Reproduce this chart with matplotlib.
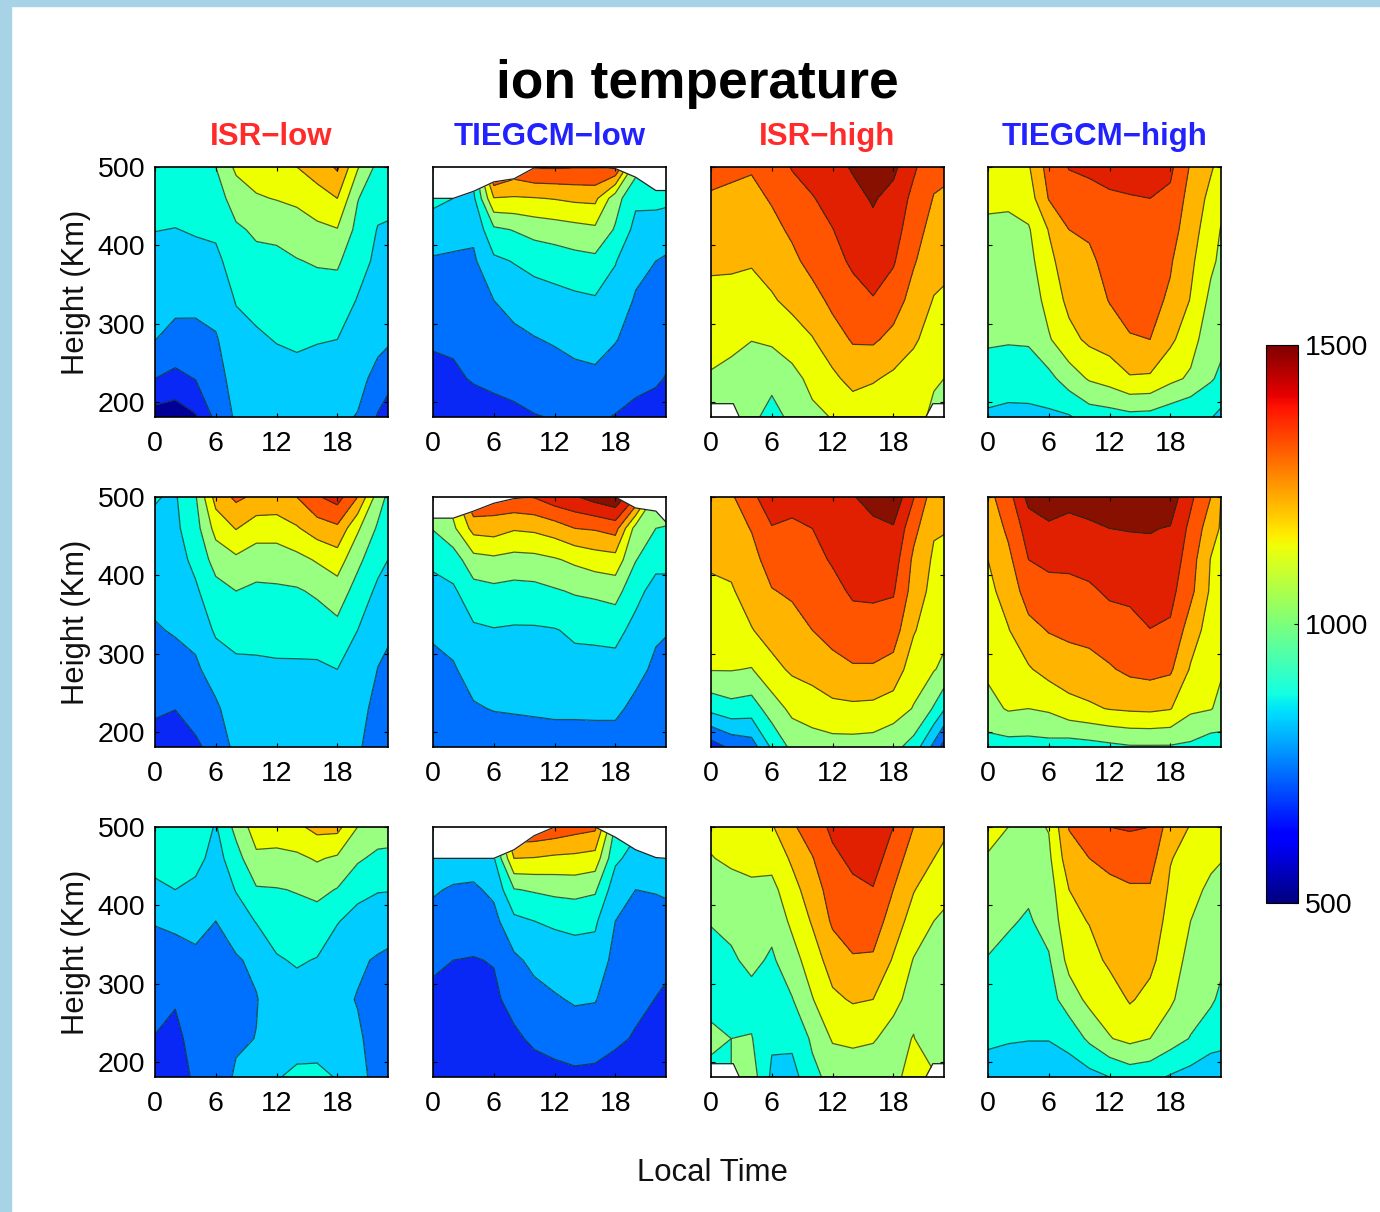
import numpy as np
import matplotlib
matplotlib.use("Agg")
import matplotlib.pyplot as plt
from matplotlib.patches import Rectangle
from matplotlib import cm
from matplotlib.colors import Normalize

plt.rcParams['font.family'] = ['Liberation Sans', 'DejaVu Sans']

LT = [0, 2, 4, 6, 8, 10, 12, 14, 16, 18, 20, 22, 23]
HEIGHTS = [181, 230, 280, 330, 380, 420, 460, 500]

col_titles = ['ISR\u2212low', 'TIEGCM\u2212low', 'ISR\u2212high', 'TIEGCM\u2212high']
x_ticks = [0, 6, 12, 18]
y_ticks = [200, 300, 400, 500]
levels = [600, 700, 800, 900, 1000, 1100, 1200, 1300, 1400, 1500]

# each inner list is one local time, bottom to top
isr_low_1 = [
 [556,700,802,830,870,902,930,960],
 [540,675,765,830,870,898,930,960],
 [590,703,770,825,875,907,935,965],
 [725,760,790,840,880,915,955,1000],
 [815,840,870,905,940,985,1045,1120],
 [830,855,885,930,975,1015,1090,1150],
 [835,860,905,940,980,1020,1105,1165],
 [840,870,915,945,995,1050,1120,1200],
 [835,865,905,950,1010,1075,1165,1240],
 [820,855,900,950,1015,1095,1200,1315],
 [795,830,865,895,935,970,1005,1110],
 [690,770,825,855,880,895,930,970],
 [650,735,815,850,870,890,925,960],
]
tiegcm_low_1 = [
 [620,665,715,755,790,850,925,970],
 [630,680,720,765,785,835,900,950],
 [640,710,745,770,785,820,880,940],
 [660,725,765,800,880,980,1195,1450],
 [670,745,775,835,905,1005,1190,1370],
 [695,750,795,855,930,1035,1195,1410],
 [705,755,810,868,945,1050,1205,1410],
 [710,765,835,880,965,1065,1220,1405],
 [715,775,845,890,975,1080,1225,1405],
 [695,755,805,860,905,990,1040,1400],
 [670,730,765,790,830,870,920,1040],
 [650,715,745,775,800,850,930,980],
 [620,695,735,770,790,840,925,980],
]
isr_high_1 = [
 [1040,1090,1135,1175,1215,1250,1285,1345],
 [1020,1075,1120,1170,1215,1245,1280,1320],
 [1030,1060,1102,1155,1210,1240,1270,1310],
 [955,1035,1115,1190,1235,1270,1310,1350],
 [1030,1065,1155,1225,1275,1318,1365,1405],
 [1075,1130,1195,1260,1335,1375,1395,1435],
 [1105,1180,1255,1325,1370,1398,1430,1465],
 [1140,1230,1310,1365,1415,1440,1470,1510],
 [1130,1210,1315,1395,1440,1475,1510,1555],
 [1105,1180,1270,1350,1410,1445,1465,1525],
 [1170,1150,1215,1260,1310,1340,1375,1415],
 [1060,1120,1155,1195,1235,1265,1295,1330],
 [1050,1100,1145,1185,1225,1255,1285,1325],
]
tiegcm_high_1 = [
 [880,965,1010,1040,1060,1075,1125,1170],
 [870,950,1008,1035,1055,1073,1120,1165],
 [870,955,1010,1040,1070,1090,1150,1190],
 [880,970,1090,1135,1170,1205,1305,1340],
 [890,1050,1170,1225,1265,1300,1350,1405],
 [945,1110,1220,1245,1280,1315,1365,1420],
 [955,1140,1245,1305,1335,1360,1390,1425],
 [970,1190,1295,1325,1350,1375,1395,1435],
 [965,1185,1300,1330,1355,1380,1400,1440],
 [935,1125,1220,1285,1310,1345,1380,1420],
 [905,1085,1140,1195,1220,1240,1260,1290],
 [905,1010,1040,1075,1120,1150,1175,1210],
 [875,980,1025,1050,1080,1095,1130,1170],
]
isr_low_2 = [
 [650,718,755,790,830,860,885,905],
 [620,703,755,810,840,860,880,890],
 [680,745,785,825,885,925,960,990],
 [740,785,840,915,965,1040,1135,1240],
 [825,850,880,930,1000,1080,1205,1320],
 [825,850,880,935,980,1050,1145,1280],
 [825,855,885,938,985,1050,1145,1270],
 [825,855,885,940,990,1070,1190,1300],
 [820,850,885,945,1015,1110,1250,1390],
 [810,845,900,970,1055,1150,1280,1440],
 [815,840,870,900,960,1025,1115,1300],
 [745,765,798,830,880,930,985,1050],
 [740,760,780,815,860,900,940,980],
]
tiegcm_low_2 = [
 [720,750,785,808,868,920,1005,1060],
 [725,755,790,835,885,950,1080,1150],
 [730,790,840,885,960,1065,1235,1410],
 [735,805,850,895,975,1080,1245,1380],
 [740,810,850,890,965,1065,1210,1390],
 [745,815,855,890,970,1070,1220,1405],
 [750,820,860,895,990,1090,1250,1460],
 [750,820,870,915,1010,1120,1300,1490],
 [755,820,860,925,1020,1150,1310,1540],
 [755,820,870,925,1040,1160,1340,1580],
 [735,775,830,875,925,1005,1060,1400],
 [720,745,780,815,870,925,1000,1070],
 [715,745,775,805,870,925,995,1060],
]
isr_high_2 = [
 [650,930,1105,1140,1180,1215,1245,1290],
 [720,965,1105,1140,1190,1225,1255,1285],
 [750,950,1095,1195,1245,1265,1305,1380],
 [915,1050,1170,1240,1295,1345,1395,1450],
 [1025,1125,1215,1260,1315,1350,1385,1430],
 [1050,1150,1235,1300,1340,1370,1400,1450],
 [1060,1175,1270,1330,1370,1410,1440,1470],
 [1060,1180,1290,1355,1415,1450,1480,1495],
 [1055,1175,1290,1355,1420,1455,1480,1530],
 [1030,1145,1265,1345,1410,1450,1490,1580],
 [960,1095,1140,1210,1260,1280,1330,1405],
 [770,990,1105,1130,1165,1185,1210,1245],
 [660,910,1080,1125,1155,1180,1205,1240],
]
tiegcm_high_2 = [
 [960,1065,1120,1150,1175,1200,1230,1270],
 [960,1110,1150,1195,1240,1275,1320,1360],
 [960,1100,1190,1270,1345,1400,1445,1530],
 [965,1115,1235,1305,1370,1420,1485,1550],
 [950,1165,1255,1320,1375,1420,1475,1525],
 [960,1185,1265,1330,1385,1435,1485,1540],
 [975,1205,1290,1355,1415,1460,1500,1545],
 [990,1215,1320,1370,1420,1460,1505,1545],
 [990,1220,1330,1398,1440,1475,1505,1545],
 [990,1205,1315,1385,1430,1465,1495,1555],
 [980,1120,1190,1250,1325,1345,1375,1420],
 [940,1105,1130,1155,1185,1195,1245,1300],
 [950,1075,1110,1130,1160,1175,1190,1200],
]
isr_low_3 = [
 [640,695,740,765,805,885,925,960],
 [630,670,710,770,815,900,940,970],
 [725,745,760,780,830,875,935,975],
 [740,755,770,785,800,830,860,890],
 [815,785,770,790,850,905,960,1030],
 [860,802,795,820,905,990,1080,1150],
 [895,860,850,890,950,995,1075,1150],
 [915,870,860,910,965,1005,1080,1180],
 [920,865,860,895,960,1025,1110,1230],
 [895,850,825,850,905,995,1085,1230],
 [830,815,795,815,870,925,1015,1100],
 [770,760,760,790,855,905,975,1060],
 [760,755,760,785,835,905,975,1050],
]
tiegcm_low_3 = [
 [635,665,680,715,770,810,860,910],
 [625,650,675,700,755,790,850,900],
 [620,645,670,695,750,785,845,900],
 [625,655,680,705,770,820,890,950],
 [625,680,735,780,875,995,1200,1400],
 [650,720,765,825,900,1010,1195,1390],
 [670,735,790,845,915,1025,1180,1370],
 [680,750,810,865,920,1035,1175,1340],
 [675,745,805,860,915,1015,1160,1320],
 [650,720,750,770,800,840,920,985],
 [640,690,725,750,775,800,860,920],
 [625,655,698,730,770,805,860,910],
 [620,650,685,720,775,810,860,910],
]
isr_high_3 = [
 [960,1030,960,970,1005,1050,1095,1130],
 [1000,1000,960,985,1025,1060,1120,1170],
 [1050,1005,965,1025,1050,1080,1130,1170],
 [880,915,940,985,1030,1070,1135,1190],
 [860,925,995,1060,1120,1165,1215,1285],
 [975,1015,1095,1150,1210,1250,1295,1350],
 [1030,1110,1180,1245,1315,1345,1380,1420],
 [1040,1120,1210,1290,1350,1380,1420,1470],
 [1030,1110,1200,1285,1355,1395,1445,1480],
 [1060,1060,1130,1190,1250,1300,1350,1400],
 [1160,1105,1060,1095,1160,1205,1250,1300],
 [1115,1015,1040,1070,1100,1150,1200,1250],
 [1030,1020,1040,1070,1085,1125,1170,1225],
]
tiegcm_high_3 = [
 [850,920,955,995,1035,1060,1090,1140],
 [835,910,945,975,1010,1045,1075,1100],
 [825,905,930,960,990,1015,1045,1075],
 [825,905,960,990,1035,1055,1080,1105],
 [845,935,1050,1130,1170,1200,1260,1305],
 [865,1020,1125,1160,1205,1250,1300,1340],
 [900,1095,1145,1220,1255,1285,1315,1400],
 [940,1125,1210,1240,1270,1290,1340,1410],
 [930,1100,1170,1225,1260,1290,1340,1400],
 [890,1045,1115,1140,1165,1185,1205,1245],
 [860,995,1045,1075,1100,1130,1165,1195],
 [835,940,1015,1040,1060,1080,1120,1165],
 [835,930,980,1020,1045,1070,1105,1145],
]

# upper limit of the model grid (white above) at each local time
model_top_low_1 = [460,460,469,481,485,499,500,500,500,498,487,470,470]
model_top_low_2 = [473,473,482,492,498,500,500,500,500,500,486,482,468]
model_top_low_3 = [460,460,460,460,471,489,500,500,500,487,471,461,460]
# lower limit of the radar data (white below)
isr_floor_lt = [0, 2.2, 2.8, 21.2, 21.9, 23]
isr_floor_h = [198, 198, 181, 181, 198, 198]

panels = [
 [isr_low_1, tiegcm_low_1, isr_high_1, tiegcm_high_1],
 [isr_low_2, tiegcm_low_2, isr_high_2, tiegcm_high_2],
 [isr_low_3, tiegcm_low_3, isr_high_3, tiegcm_high_3],
]
tops = {(0, 1): model_top_low_1, (1, 1): model_top_low_2, (2, 1): model_top_low_3}
floors = {(0, 2), (2, 2)}

band_colors = ['#000096', '#0a28f5', '#0070ff', '#00ccff', '#00ffdd', '#98ff80',
               '#eeff00', '#ffb400', '#ff5500', '#e02000', '#881000']

W, H = 1380, 1212
fig = plt.figure(figsize=(W/100, H/100), dpi=100, facecolor='white')

def rect(l, t, w, h):
    return [l/W, 1-(t+h)/H, w/W, h/H]

border = '#a8d3e6'
fig.patches.append(Rectangle((0, 0), 11/W, 1, transform=fig.transFigure, color=border, zorder=-5))
fig.patches.append(Rectangle((0, 1-6/H), 1, 6/H, transform=fig.transFigure, color=border, zorder=-5))

lefts = [155, 433, 711, 988]
uppers = [167, 497, 827]
T, Y = np.meshgrid(LT, HEIGHTS)
fill_levels = [0] + levels + [5000]

for r, row in enumerate(panels):
    for c, data in enumerate(row):
        ax = fig.add_axes(rect(lefts[c], uppers[r], 233, 250))
        Z = np.array(data).T
        ax.contourf(T, Y, Z, levels=fill_levels, colors=band_colors)
        ax.contour(T, Y, Z, levels=levels, colors='#1a2a1a', linewidths=0.9, alpha=0.75)
        if (r, c) in tops:
            ax.fill_between(LT, tops[(r, c)], 501, color='white', zorder=3, lw=0)
            ax.plot(LT, tops[(r, c)], color='#222222', lw=0.9, zorder=4)
        if (r, c) in floors:
            ax.fill_between(isr_floor_lt, 180, isr_floor_h, color='white', zorder=3, lw=0)
            ax.plot(isr_floor_lt, isr_floor_h, color='#222222', lw=0.9, zorder=4)
        ax.set_xlim(0, 23)
        ax.set_ylim(181, 500)
        ax.set_xticks(x_ticks)
        ax.set_yticks(y_ticks)
        ax.tick_params(direction='in', length=3, width=0.8, labelsize=20.5, pad=10,
                       top=True, right=True, colors='black')
        ax.tick_params(axis='y', pad=7)
        if c > 0:
            ax.tick_params(labelleft=False)
        else:
            ax.set_ylabel('Height (Km)', fontsize=22.3, labelpad=5, color='#111111')
        for s in ax.spines.values():
            s.set_linewidth(1.2)
            s.set_zorder(6)
        if r == 0:
            ax.set_title(col_titles[c], fontsize=22.5, fontweight='bold', pad=16,
                         color='#ff2a2a' if c % 2 == 0 else '#2222ff')

fig.text(697/W, 1-84/H, 'ion temperature', fontsize=38.3, fontweight='bold', ha='center', va='center')
fig.text(712/W, 1-1173/H, 'Local Time', fontsize=22.4, ha='center', va='center', color='#111111')

cax = fig.add_axes(rect(1266, 345, 32, 558))
cb = fig.colorbar(cm.ScalarMappable(Normalize(500, 1500), 'jet'), cax=cax, ticks=[500, 1000, 1500])
cb.ax.tick_params(direction='in', length=3, width=0.8, labelsize=20.5, pad=5)
cb.outline.set_linewidth(0.8)

fig.savefig('out.png', dpi=100)
